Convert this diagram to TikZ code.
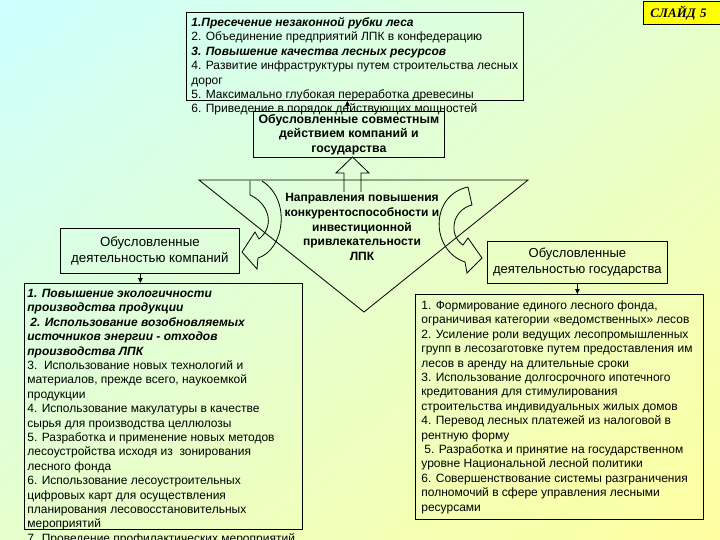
\documentclass[tikz,border=0pt]{standalone}
\usepackage{fontspec}
\setmainfont{Liberation Sans}
\newfontfamily\slidefont{Liberation Serif}
\usetikzlibrary{arrows.meta,positioning,calc,shadings}
\definecolor{bgcyan}{HTML}{CCFFFF}
\definecolor{bgmid}{HTML}{E6FFCC}
\definecolor{bgyellow}{HTML}{FFFFA0}
\definecolor{ink}{HTML}{000000}
\definecolor{tagfill}{HTML}{FFFF00}
\definecolor{tagink}{HTML}{000033}
\newcommand{\bitx}[1]{\textbf{\textit{#1}}}

\begin{document}
\begin{tikzpicture}[x=1pt, y=-1pt,
    >={Triangle[length=5pt,width=4.5pt]},
    line width=0.8pt,
    font=\fontsize{12}{14.4}\selectfont,
    box/.style={draw=ink, inner sep=0pt, anchor=north west},
    capbox/.style={draw=ink, inner sep=0pt, anchor=north west, align=center,
                   text=ink},
    list/.style={anchor=north west, align=left, inner sep=0pt, text=ink},
    tag/.style={draw=ink, fill=tagfill, inner xsep=7pt, inner ysep=0pt,
                text=tagink, align=left,
                font=\slidefont\bfseries\itshape\fontsize{13}{15}\selectfont},
  ]

% slide background
\shade[upper left=bgcyan, upper right=bgmid, lower left=bgmid,
       lower right=bgyellow] (0,0) rectangle (720,540);
\useasboundingbox (0,0) rectangle (720,540);

% slide number
\node[tag, text width=64pt, minimum height=23pt, anchor=north west] (slide)
  at (643,1) {СЛАЙД 5};

% joint measures
\node[box, minimum width=337pt, minimum height=88pt] (goals) at (186,12) {};
\node[list] (goalstext) at (191,16)
  {\strut\bitx{1.Пресечение незаконной рубки леса}\\
   2. Объединение предприятий ЛПК в конфедерацию\\
   \bitx{3. Повышение качества лесных ресурсов}\\
   4. Развитие инфраструктуры путем строительства лесных\\
   дорог\\
   5. Максимально глубокая переработка древесины\\
   6. Приведение в порядок действующих мощностей};

\node[capbox, minimum width=191pt, minimum height=46pt,
      font=\bfseries\fontsize{12.3}{14.5}\selectfont] (joint) at (253,111)
  {Обусловленные совместным\\действием компаний и\\государства};
\draw[->] ([xshift=-1.5pt]joint.north) -- ([xshift=-1.5pt]joint.north |- goals.south);

% central triangle
\draw (199,180) -- (528,180) -- (364,312) -- cycle;
\node[align=center, inner sep=0pt, font=\bfseries\fontsize{12}{14.75}\selectfont]
  (dirs) at (362,227)
  {Направления повышения\\конкурентоспособности и\\инвестиционной\\
   привлекательности\\ЛПК};

% block arrow up
\draw (344,192) -- (344,173) -- (336,173) -- (352.5,157) -- (369,173)
  -- (361,173) -- (361,192);

% curved arrows
\draw (250,181) -- (250,195) .. controls (268,203) and (276,225) .. (259,239)
  -- (255,232) -- (242,252) -- (257,269) -- (258,258)
  .. controls (284,250) and (292,200) .. (262,181);
\draw (468,187) -- (472,205) .. controls (452,210) and (448,235) .. (463,245)
  -- (468,238) -- (482,258) -- (467,273) -- (465,262)
  .. controls (430,250) and (430,195) .. (468,187);

% companies
\node[capbox, minimum width=179pt, minimum height=45pt,
      font=\fontsize{13.3}{16}\selectfont] (firms) at (60,228)
  {Обусловленные\\деятельностью компаний};
\node[box, minimum width=278pt, minimum height=246pt] (firmlist) at (24,283) {};
\draw[->] ([xshift=-9.5pt]firms.south) -- ([xshift=-9.5pt]firms.south |- firmlist.north);
\node[list] (firmtext) at (27,287)
  {\strut\bitx{1. Повышение экологичности}\\
   \bitx{производства продукции}\\
   \hspace*{3pt}\bitx{2. Использование возобновляемых}\\
   \bitx{источников энергии - отходов}\\
   \bitx{производства ЛПК}\\
   3.\ \ Использование новых технологий и\\
   материалов, прежде всего, наукоемкой\\
   продукции\\
   4. Использование макулатуры в качестве\\
   сырья для производства целлюлозы\\
   5. Разработка и применение новых методов\\
   лесоустройства исходя из\ \ зонирования\\
   лесного фонда\\
   6. Использование лесоустроительных\\
   цифровых карт для осуществления\\
   планирования лесовосстановительных\\
   мероприятий\\
   7. Проведение профилактических мероприятий};

% state
\node[capbox, minimum width=180pt, minimum height=42pt,
      font=\fontsize{13}{16}\selectfont] (state) at (487,241)
  {Обусловленные\\деятельностью государства};
\node[box, minimum width=288pt, minimum height=225pt] (statelist) at (415,294) {};
\draw[->] (state.south) -- (state.south |- statelist.north);
\node[list] (statetext) at (421,299)
  {\strut 1. Формирование единого лесного фонда,\\
   ограничивая категории «ведомственных» лесов\\
   2. Усиление роли ведущих лесопромышленных\\
   групп в лесозаготовке путем предоставления им\\
   лесов в аренду на длительные сроки\\
   3. Использование долгосрочного ипотечного\\
   кредитования для стимулирования\\
   строительства индивидуальных жилых домов\\
   4. Перевод лесных платежей из налоговой в\\
   рентную форму\\
   \hspace*{3pt}5. Разработка и принятие на государственном\\
   уровне Национальной лесной политики\\
   6. Совершенствование системы разграничения\\
   полномочий в сфере управления лесными\\
   ресурсами};

\end{tikzpicture}
\end{document}
